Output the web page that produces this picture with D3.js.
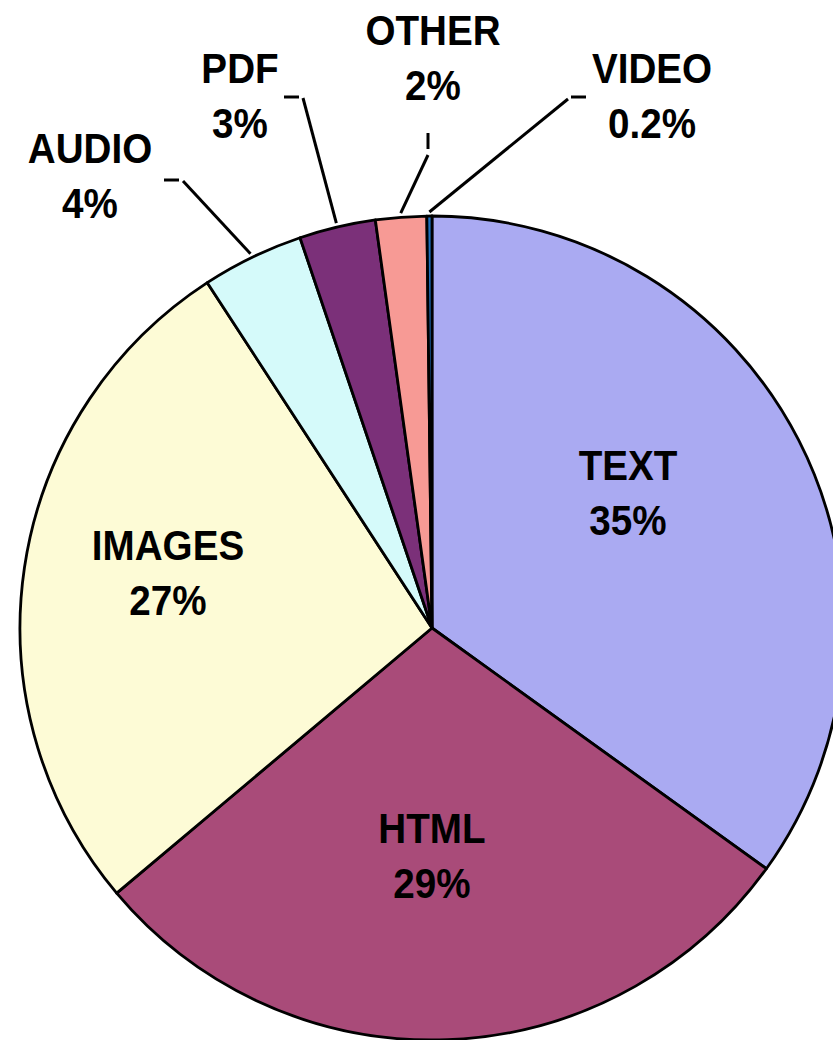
<!DOCTYPE html>
<html><head><meta charset="utf-8">
<script src="https://cdn.jsdelivr.net/npm/d3@7"></script>
<style>body{margin:0;background:#fff;overflow:hidden}</style>
</head><body>
<svg id="c" width="833" height="1040"></svg>
<script>
const categories = ["TEXT","HTML","IMAGES","AUDIO","PDF","OTHER","VIDEO"];
const values = [35, 29, 27, 4, 3, 2, 0.2];
const valueLabels = ["35%","29%","27%","4%","3%","2%","0.2%"];
const colors = ["#aaaaf2","#a94b79","#fdfbd6","#d5fafa","#7b3079","#f79a95","#1f6fbe"];

// layout (not data)
const W = 833, H = 1040, cx = 432, cy = 628, R = 412;
const labelPos = { // centre x, centre y of the first line
  TEXT: [628, 465], HTML: [432, 828], IMAGES: [168, 545],
  AUDIO: [90, 148], PDF: [240, 68], OTHER: [433, 30], VIDEO: [652, 68]
};
const ticks = {
  AUDIO: {tx: 164, ty: 180, tick: "h"},
  PDF:   {tx: 284, ty: 97, tick: "h"},
  OTHER: {tx: 428, ty: 133, tick: "v"},
  VIDEO: {tx: 586, ty: 97, tick: "hr"}
};
const fs = 42, sx = 0.92, lineGap = 55, cap = 0.716 * fs;

const svg = d3.select("#c");
const g = svg.append("g").attr("transform", `translate(${cx},${cy})`);
const pie = d3.pie().sort(null).value(d => d.v);
const data = categories.map((c, i) => ({c, v: values[i], l: valueLabels[i], col: colors[i]}));
const arcs = pie(data);
const arc = d3.arc().innerRadius(0).outerRadius(R);

g.selectAll("path.s").data(arcs).join("path")
  .attr("class", "s")
  .attr("d", arc)
  .attr("fill", d => d.data.col)
  .attr("stroke", "#000")
  .attr("stroke-width", 2.8)
  .attr("stroke-linejoin", "round");

function label(x, yc, a, b) {
  const t = svg.append("g").attr("transform", `translate(${x},${yc + cap / 2}) scale(${sx},1)`);
  [a, b].forEach((s, i) => {
    t.append("text").attr("x", 0).attr("y", i * lineGap)
      .attr("text-anchor", "middle")
      .attr("font-family", "Liberation Sans, Arial, sans-serif")
      .attr("font-weight", "bold").attr("font-size", fs)
      .attr("fill", "#000").text(s);
  });
}

arcs.forEach(d => {
  const p = labelPos[d.data.c];
  label(p[0], p[1], d.data.c, d.data.l);
});

// leader lines for the small slices
const lw = 3;
arcs.slice(3).forEach(d => {
  const o = ticks[d.data.c];
  const m = (d.startAngle + d.endAngle) / 2;
  const ex = cx + (R + 4) * Math.sin(m), ey = cy - (R + 4) * Math.cos(m);
  let pts;
  if (o.tick === "h") {
    svg.append("line").attr("x1", o.tx).attr("y1", o.ty).attr("x2", o.tx + 15).attr("y2", o.ty)
      .attr("stroke", "#000").attr("stroke-width", lw);
    pts = [[o.tx + 19, o.ty + 1], [ex, ey]];
  } else if (o.tick === "hr") {
    svg.append("line").attr("x1", o.tx).attr("y1", o.ty).attr("x2", o.tx - 15).attr("y2", o.ty)
      .attr("stroke", "#000").attr("stroke-width", lw);
    pts = [[o.tx - 18, o.ty + 2], [ex, ey]];
  } else {
    svg.append("line").attr("x1", o.tx).attr("y1", o.ty).attr("x2", o.tx).attr("y2", o.ty + 16)
      .attr("stroke", "#000").attr("stroke-width", lw);
    pts = [[o.tx, o.ty + 22], [ex, ey]];
  }
  svg.append("path").attr("d", d3.line()(pts)).attr("fill", "none")
    .attr("stroke", "#000").attr("stroke-width", lw);
});
</script>
</body></html>
